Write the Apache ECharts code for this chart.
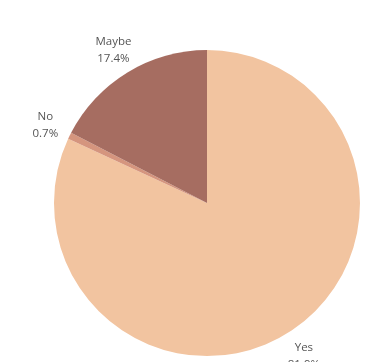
<!DOCTYPE html>
<html>
<head>
<meta charset="utf-8">
<script src="https://cdn.jsdelivr.net/npm/echarts@6/dist/echarts.min.js"></script>
<style>
html,body{margin:0;padding:0;background:#fff;}
#chart{width:376px;height:362px;}
</style>
</head>
<body>
<div id="chart"></div>
<script>
var categories = ['Yes', 'No', 'Maybe'];
var values = [81.9, 0.7, 17.4];
var colors = ['#F2C4A0', '#D5957E', '#A66D61'];

var chart = echarts.init(document.getElementById('chart'), null, {renderer: 'canvas'});
var center = ['55.05%', '56.1%'];
var pieData = categories.map(function (c, i) {
  return {name: c, value: values[i], itemStyle: {color: colors[i]}};
});
var labelData = categories.map(function (c, i) {
  return {name: c, value: values[i]};
});
chart.setOption({
  animation: false,
  series: [
    {
      type: 'pie',
      center: center,
      radius: [0, 153],
      startAngle: 90,
      clockwise: true,
      label: {show: false},
      labelLine: {show: false},
      silent: true,
      data: pieData
    },
    {
      type: 'pie',
      center: center,
      radius: [153, 201],
      startAngle: 90,
      clockwise: true,
      silent: true,
      itemStyle: {color: 'rgba(0,0,0,0)'},
      label: {
        show: true,
        position: 'inside',
        offset: [0, 1],
        formatter: function (p) { return p.name + '\n' + p.value.toFixed(1) + '%'; },
        fontFamily: 'Open Sans',
        fontSize: 11.5,
        lineHeight: 17,
        color: '#555',
        align: 'center'
      },
      labelLine: {show: false},
      data: labelData
    }
  ]
});
</script>
</body>
</html>
